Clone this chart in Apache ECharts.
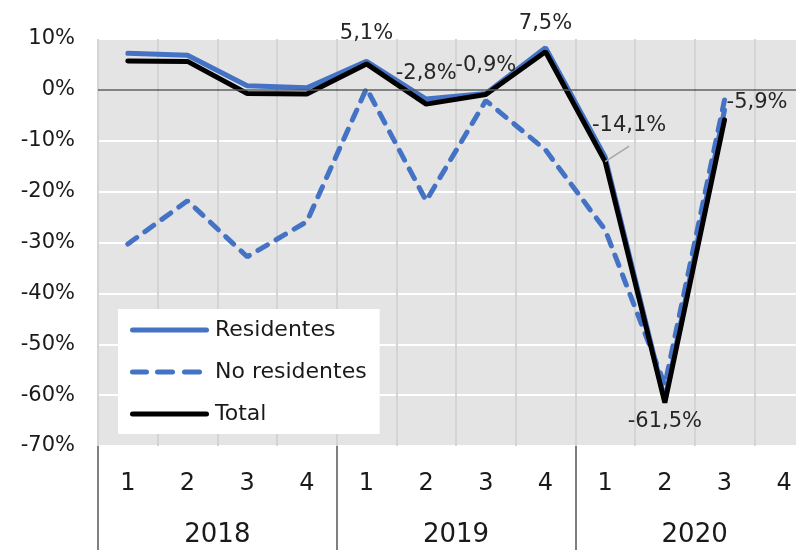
<!DOCTYPE html>
<html>
<head>
<meta charset="utf-8">
<script src="https://cdn.jsdelivr.net/npm/echarts@6/dist/echarts.min.js"></script>
<style>
html,body{margin:0;padding:0;background:#fff;overflow:hidden;}
#chart{width:814px;height:550px;}
</style>
</head>
<body>
<div id="chart"></div>
<script>
const quarters = ['1','2','3','4','1','2','3','4','1','2','3','4'];
const years = ['2018','2019','2020'];
const yTicks = [10, 0, -10, -20, -30, -40, -50, -60, -70];
const residentes = [7.2, 6.8, 0.8, 0.4, 5.6, -1.8, -0.7, 8.3, -13.2, -61.0, -4.0, null];
const noResidentes = [-30.3, -21.8, -32.8, -25.9, 0.3, -21.8, -2.1, -11.8, -27.5, -58.0, -2.0, null];
const total = [5.7, 5.6, -0.7, -0.8, 5.1, -2.8, -0.9, 7.5, -14.1, -61.5, -5.9, null];
// which Total points carry a data label
const labelledTotal = [false, false, false, false, true, true, true, true, true, true, true, false];

const FONT = 'DejaVu Sans';
const fmt = v => v.toFixed(1).replace('.', ',') + '%';

const labelPlacement = {
  4: {position: 'top', distance: 20},
  5: {position: 'top', distance: 20},
  6: {position: 'top', distance: 18},
  7: {position: 'top', distance: 18},
  8: {position: 'top', distance: 26, offset: [24, 0], leader: true},
  9: {position: 'bottom', distance: 8},
  10: {position: 'right', distance: 2, offset: [0, -17]}
};

const totalData = total.map((v, i) => {
  if (!labelledTotal[i]) return {value: v};
  const p = labelPlacement[i] || {position: 'top', distance: 10};
  const item = {
    value: v,
    label: {
      show: true, position: p.position, distance: p.distance,
      offset: p.offset || [0, 0],
      formatter: () => fmt(v),
      fontFamily: FONT, fontSize: 21, color: '#262626'
    }
  };
  if (p.leader) item.labelLine = {show: true, lineStyle: {color: '#a6a6a6', width: 1.5}};
  return item;
});

const solidIcon = 'path://M2.5,0 L76.5,0 A2.5,2.5 0 0 1 76.5,5 L2.5,5 A2.5,2.5 0 0 1 2.5,0 Z';
const dashIcon = 'path://M2.5,0 L16.5,0 A2.5,2.5 0 0 1 16.5,5 L2.5,5 A2.5,2.5 0 0 1 2.5,0 Z ' +
  'M27.5,0 L42.5,0 A2.5,2.5 0 0 1 42.5,5 L27.5,5 A2.5,2.5 0 0 1 27.5,0 Z ' +
  'M54.5,0 L69.5,0 A2.5,2.5 0 0 1 69.5,5 L54.5,5 A2.5,2.5 0 0 1 54.5,0 Z ' +
  'M79,0 L79,0.01 Z';

const chart = echarts.init(document.getElementById('chart'), null, {renderer: 'canvas'});
chart.setOption({
  animation: false,
  backgroundColor: '#ffffff',
  textStyle: {fontFamily: FONT},
  grid: {left: 98, top: 39, right: 0, bottom: 104, show: true, backgroundColor: '#e4e4e4', borderWidth: 0, containLabel: false},
  xAxis: [
    {
      type: 'category', data: quarters, position: 'bottom', boundaryGap: true,
      axisLine: {show: false}, axisTick: {show: false},
      axisLabel: {margin: 26, fontSize: 24, color: '#1a1a1a', fontFamily: FONT, interval: 0},
      splitLine: {show: true, interval: 0, lineStyle: {color: '#d4d4d4', width: 2}}
    },
    {
      type: 'category', data: years, position: 'bottom', boundaryGap: true,
      axisLine: {show: false},
      axisTick: {show: true, length: 104, interval: 0, lineStyle: {color: '#7f7f7f', width: 2}},
      axisLabel: {margin: 76, fontSize: 26, color: '#1a1a1a', fontFamily: FONT, interval: 0},
      splitLine: {show: false}
    }
  ],
  yAxis: {
    type: 'value', min: -70, max: 10, interval: 10,
    axisLine: {show: false}, axisTick: {show: false},
    axisLabel: {margin: 23, fontSize: 21, color: '#1a1a1a', fontFamily: FONT,
      formatter: v => yTicks.indexOf(v) >= 0 ? v + '%' : ''},
    splitLine: {show: true, lineStyle: {color: '#ffffff', width: 2}}
  },
  legend: {
    orient: 'vertical', left: 118, top: 309,
    backgroundColor: '#ffffff', borderWidth: 0,
    padding: [10, 13, 9, 12],
    itemWidth: 79, itemHeight: 5, itemGap: 20,
    textStyle: {fontFamily: FONT, fontSize: 22, color: '#1a1a1a', lineHeight: 22, padding: [0, 0, 0, 1]},
    data: [
      {name: 'Residentes', icon: solidIcon},
      {name: 'No residentes', icon: dashIcon},
      {name: 'Total', icon: solidIcon}
    ]
  },
  series: [
    {
      name: 'No residentes', type: 'line', data: noResidentes,
      symbol: 'circle', symbolSize: 0.1, showSymbol: true,
      lineStyle: {color: '#4472c4', width: 5, type: [11, 10], cap: 'round'},
      itemStyle: {color: '#4472c4'}, z: 2,
      markLine: {
        silent: true, symbol: 'none', animation: false,
        label: {show: false},
        lineStyle: {color: '#595959', width: 1.5, type: 'solid'},
        data: [{yAxis: 0}]
      }
    },
    {
      name: 'Residentes', type: 'line', data: residentes,
      symbol: 'circle', symbolSize: 0.1, showSymbol: true,
      lineStyle: {color: '#4472c4', width: 5, cap: 'round'},
      itemStyle: {color: '#4472c4'}, z: 3
    },
    {
      name: 'Total', type: 'line', data: totalData,
      symbol: 'circle', symbolSize: 0.1, showSymbol: true,
      lineStyle: {color: '#000000', width: 5, cap: 'round'},
      itemStyle: {color: '#000000'}, z: 4
    }
  ]
});
</script>
</body>
</html>
